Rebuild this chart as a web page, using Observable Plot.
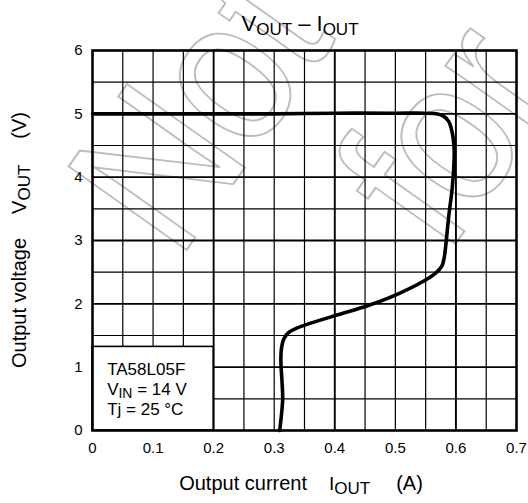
<!DOCTYPE html>
<html><head><meta charset="utf-8">
<script src="https://cdn.jsdelivr.net/npm/d3@7"></script>
<script src="https://cdn.jsdelivr.net/npm/@observablehq/plot@0.6"></script>
<style>body{margin:0;background:#fff} svg{font-family:"Liberation Sans",Arial,sans-serif}</style>
</head><body><div id="chart"></div>
<script>
// Output current IOUT (A) and output voltage VOUT (V)
const iout = [0, 0.1, 0.2, 0.3, 0.4, 0.5, 0.55, 0.568, 0.58, 0.588, 0.594, 0.597, 0.597, 0.594, 0.588, 0.583, 0.581, 0.577, 0.566, 0.547, 0.503, 0.454, 0.399, 0.338, 0.324, 0.316, 0.312, 0.311, 0.313, 0.314, 0.312, 0.309];
const vout = [5.0, 5.0, 5.0, 5.0, 5.01, 5.01, 5.01, 5.0, 4.96, 4.88, 4.7, 4.45, 4.27, 3.84, 3.37, 2.9, 2.75, 2.6, 2.48, 2.36, 2.15, 1.97, 1.81, 1.62, 1.55, 1.45, 1.3, 1.1, 0.75, 0.5, 0.25, 0];

const xTicks = [0, 0.1, 0.2, 0.3, 0.4, 0.5, 0.6, 0.7];
const yTicks = [0, 1, 2, 3, 4, 5, 6];
const xMinor = [0.05, 0.1, 0.15, 0.25, 0.3, 0.35, 0.45, 0.5, 0.55, 0.65];
const xMajor = [0.2, 0.4, 0.6];
const yMinor = [0.5, 1.5, 2.5, 3.5, 4.5, 5.5];
const yMajor = [1, 2, 3, 4, 5];

const legendBox = {x1: 0, x2: 0.2, y1: 0, y2: 1.32};
const legendX = 0.025;
const legendY = [0.868, 0.553, 0.237];

const points = iout.map((d, i) => ({i: d, v: vout[i]}));

const chart = Plot.plot({
  width: 528, height: 503,
  marginTop: 50, marginRight: 12, marginBottom: 73, marginLeft: 92,
  style: {fontFamily: "Liberation Sans, Arial, sans-serif", fontSize: "15px", background: "white", color: "black"},
  x: {domain: [0, 0.7]},
  y: {domain: [0, 6]},
  marks: [
    Plot.ruleX(xMinor, {stroke: "black", strokeWidth: 1.2}),
    Plot.ruleX(xMajor, {stroke: "black", strokeWidth: 1.9}),
    Plot.ruleY(yMinor, {stroke: "black", strokeWidth: 1.2}),
    Plot.ruleY(yMajor, {stroke: "black", strokeWidth: 1.9}),
    Plot.rect([legendBox], {x1: "x1", x2: "x2", y1: "y1", y2: "y2", fill: "white", stroke: "black", strokeWidth: 1.6}),
    Plot.line(points, {x: "i", y: "v", stroke: "black", strokeWidth: 3.6, curve: "catmull-rom", strokeLinejoin: "round"}),
    Plot.frame({stroke: "black", strokeWidth: 2.6}),
    Plot.axisX(xTicks, {tickSize: 0, tickPadding: 12, fontSize: 15, label: null, tickFormat: d => d === 0 ? "0" : d.toFixed(1)}),
    Plot.axisY(yTicks, {tickSize: 0, tickPadding: 10, fontSize: 15, label: null, tickFormat: d => String(d)})
  ]
});
document.getElementById("chart").appendChild(chart);

const svg = d3.select(chart);
const sx = chart.scale("x"), sy = chart.scale("y");
const [r0, r1] = sx.range;
const cx = (r0 + r1) / 2;

// watermark (behind everything), clipped to the picture
svg.append("clipPath").attr("id", "wmclip").append("rect").attr("width", 528).attr("height", 503);
const wm = svg.insert("g", "g").attr("clip-path", "url(#wmclip)").attr("fill", "none").attr("stroke", "#bcbcbc").attr("stroke-width", 2)
  .attr("text-anchor", "start").attr("font-family", "Liberation Sans, Arial, sans-serif").attr("font-size", 210);
wm.append("text").attr("transform", "translate(178,262) rotate(-54.7) scale(0.86,1)").attr("letter-spacing", -4).text("Not");
wm.append("text").attr("transform", "translate(446,257) rotate(-54.7) scale(0.86,1)").attr("letter-spacing", -4).text("for");

// title
const t = svg.append("text").attr("x", cx - 4).attr("y", 31).attr("text-anchor", "middle").attr("font-size", 22).attr("fill", "black");
t.append("tspan").text("V");
t.append("tspan").attr("font-size", 17).attr("dy", 4).text("OUT");
t.append("tspan").attr("dy", -4).text(" \u2013 ");
t.append("tspan").text("I");
t.append("tspan").attr("font-size", 17).attr("dy", 4).text("OUT");

// x label
const xl = svg.append("text").attr("x", cx - 3).attr("y", 490).attr("text-anchor", "middle").attr("font-size", 20).attr("fill", "black");
xl.append("tspan").text("Output current");
xl.append("tspan").attr("dx", 22).attr("font-size", 19).text("I");
xl.append("tspan").attr("font-size", 17).attr("dy", 4).text("OUT");
xl.append("tspan").attr("dx", 26).attr("dy", -4).text("(A)");

// y label
const yc = (sy.apply(0) + sy.apply(6)) / 2;
const yl = svg.append("text").attr("transform", `translate(26,${yc}) rotate(-90)`).attr("text-anchor", "middle").attr("font-size", 20).attr("fill", "black");
yl.append("tspan").text("Output voltage");
yl.append("tspan").attr("dx", 24).text("V");
yl.append("tspan").attr("font-size", 17).attr("dy", 4).text("OUT");
yl.append("tspan").attr("dx", 26).attr("dy", -4).text("(V)");

// legend text
const lx = sx.apply(legendX);
const lg = svg.append("g").attr("font-size", 17).attr("fill", "black").attr("text-anchor", "start");
lg.append("text").attr("x", lx).attr("y", sy.apply(legendY[0])).text("TA58L05F");
const l2 = lg.append("text").attr("x", lx).attr("y", sy.apply(legendY[1]));
l2.append("tspan").text("V");
l2.append("tspan").attr("font-size", 14).attr("dy", 3).text("IN");
l2.append("tspan").attr("dy", -3).text(" = 14 V");
lg.append("text").attr("x", lx).attr("y", sy.apply(legendY[2])).text("Tj = 25 \u00b0C");
</script>
</body></html>
